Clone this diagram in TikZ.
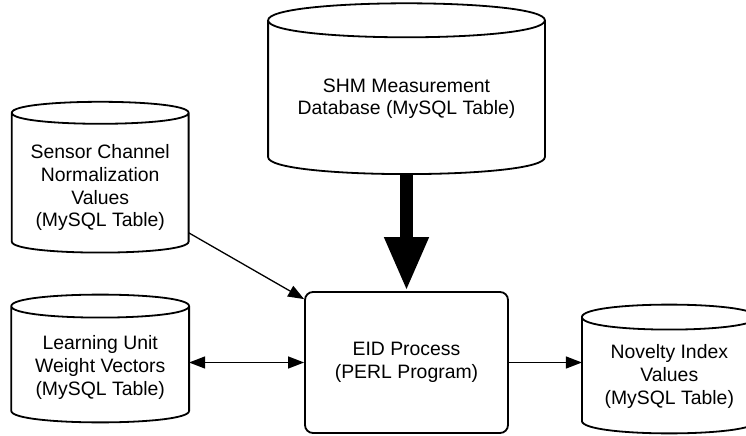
\documentclass[tikz,border=0pt]{standalone}
\usepackage{fontspec}
\setmainfont{Liberation Sans}
\usetikzlibrary{arrows.meta,positioning}
\tikzset{
  db/.style={inner sep=0pt,align=center,font=\fontsize{9.7}{11.3}\selectfont},
  dbline/.style={line width=0.9pt},
  proc/.style={draw,rounded corners=4pt,align=center,line width=0.9pt,font=\fontsize{9.7}{11.3}\selectfont},
  arr/.style={-{Triangle[length=8pt,width=6pt]},line width=0.65pt},
  twoarr/.style={{Triangle[length=8pt,width=6pt]}-{Triangle[length=8pt,width=6pt]},line width=0.65pt},
  bigarr/.style={-{Triangle[length=27pt,width=20.5pt]},line width=6.5pt}
}
% table outline round a db node: name, cap depth, top overhang
\newcommand{\dbdraw}[3]{%
  \draw[dbline] ([yshift=#3-#2]#1.north west) -- ([yshift=#2]#1.south west)
    .. controls +(0,-1.333*#2) and +(0,-1.333*#2) .. ([yshift=#2]#1.south east)
    -- ([yshift=#3-#2]#1.north east)
    .. controls +(0,1.333*#2) and +(0,1.333*#2) .. ([yshift=#3-#2]#1.north west)
    .. controls +(0,-1.333*#2) and +(0,-1.333*#2) .. ([yshift=#3-#2]#1.north east);}
\begin{document}
\begin{tikzpicture}[x=0.5pt,y=0.5pt]
  \useasboundingbox (0,0) rectangle (746,435);
  \node[proc,minimum width=101.5pt,minimum height=70.5pt] (eid) at (406.5,72.5) {EID Process\\(PERL Program)};
  \node[db,minimum width=138pt,minimum height=75pt,above=58.5pt of eid] (shm) {SHM Measurement\\Database (MySQL Table)};
  \node[db,minimum width=87pt,minimum height=56.5pt,right=36.5pt of eid,yshift=-7pt] (nov) {Novelty Index\\Values\\(MySQL Table)};
  \node[db,minimum width=88.5pt,minimum height=54.5pt,left=57.5pt of eid,yshift=-2.5pt] (learn) {Learning Unit\\Weight Vectors\\(MySQL Table)};
  \node[db,minimum width=88pt,minimum height=64.5pt,above=30pt of learn] (sensor) {Sensor Channel\\Normalization\\Values\\(MySQL Table)};
  \dbdraw{shm}{8.5pt}{10pt}
  \dbdraw{nov}{6.25pt}{7.5pt}
  \dbdraw{learn}{5.75pt}{9pt}
  \dbdraw{sensor}{5.5pt}{10.5pt}
  \draw[bigarr] (shm) -- (eid);
  \draw[arr] (sensor.-27) -- ([yshift=-4pt]eid.north west);
  \draw[twoarr] (learn.east |- eid.west) -- (eid.west);
  \draw[arr] (eid.east) -- (eid.east -| nov.west);
\end{tikzpicture}
\end{document}
